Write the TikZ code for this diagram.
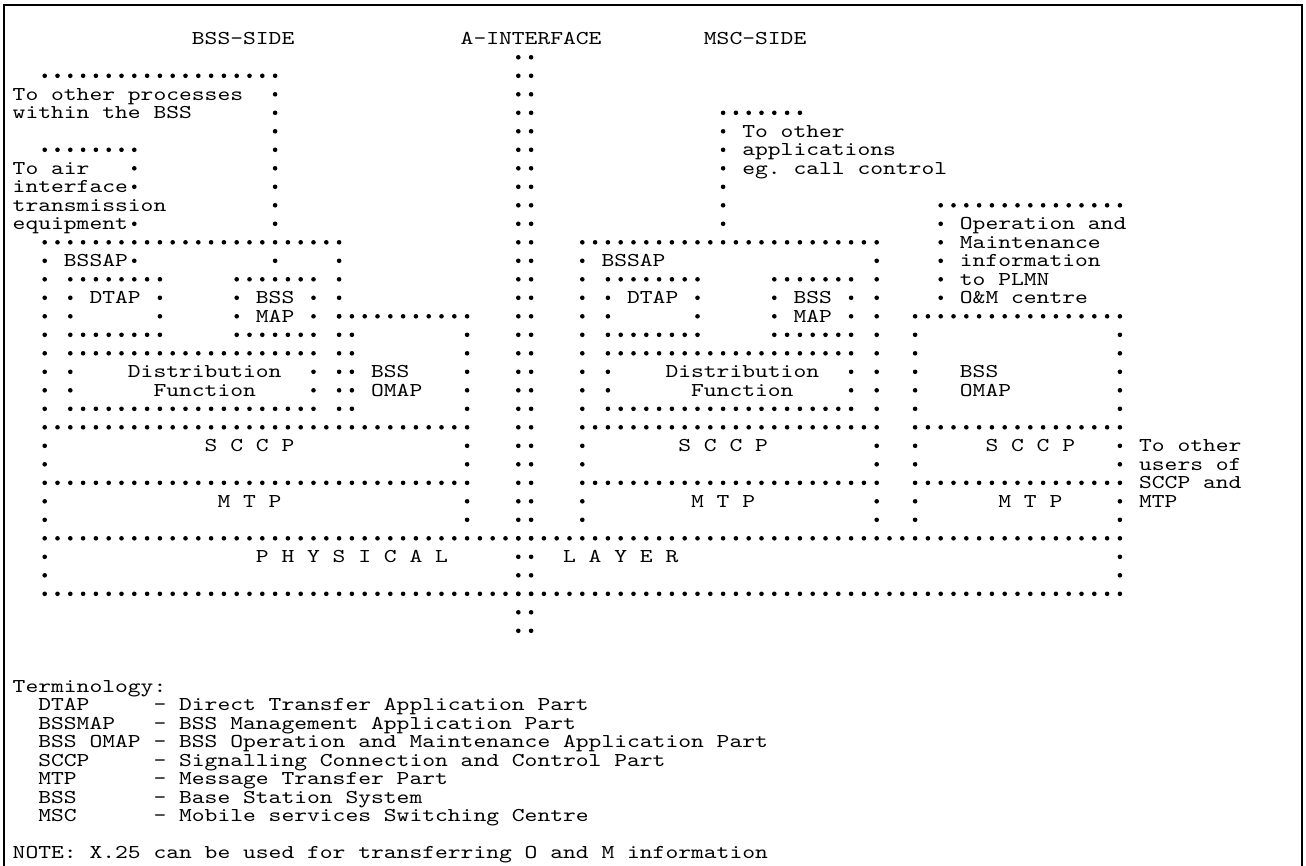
\documentclass[tikz,border=0pt]{standalone}
\usepackage{fontspec}
\usepackage{graphicx}
\tikzset{txt/.style={anchor=base west, inner sep=0pt, outer sep=0pt,
  font=\ttfamily\fontsize{9.8}{10}\selectfont\frenchspacing}}
\newcommand\bdot[2]{\fill ({19.1+12.8*(#2)},{38.8+18.5*(#1)}) circle[radius=1.15pt];}
\newcommand\brow[3]{\foreach \cc in {#2,...,#3}{\bdot{#1}{\cc}}}
\newcommand\bcol[3]{\foreach \rr in {#2,...,#3}{\bdot{\rr}{#1}}}
\newcommand\tx[4]{\node[txt] (#1) at ({12.7+12.8*(#3)},{44.7+18.5*(#2)}) {\scalebox{1.244}[1]{#4}};}
\begin{document}
\begin{tikzpicture}[x=0.5pt,y=-0.5pt]
\useasboundingbox (0,0) rectangle (1306,866);
\fill[white] (0,0) rectangle (1306,866);
% frame
\draw[line width=1.2pt] (4,870) -- (4,5) -- (1302,5) -- (1302,870);
% titles
\tx{tbss}{0}{14}{BSS-SIDE}
\tx{tai}{0}{35}{A-INTERFACE}
\tx{tmsc}{0}{54}{MSC-SIDE}
% A-interface
\bcol{39}{1}{32}
\bcol{40}{1}{32}
% ---------- BSS side ----------
\brow{2}{2}{20}
\bcol{20}{3}{10} \bdot{12}{20}
\tx{toproc}{3}{0}{To other processes}
\tx{within}{4}{0}{within the BSS}
\brow{6}{2}{9}
\bdot{7}{9} \bdot{8}{9} \bdot{10}{9} \bdot{12}{9}
\tx{toair}{7}{0}{To air}
\tx{interf}{8}{0}{interface}
\tx{transm}{9}{0}{transmission}
\tx{equip}{10}{0}{equipment}
% BSSAP box
\brow{11}{2}{25}
\bcol{2}{12}{20} \bcol{25}{12}{20}
\tx{bssapL}{12}{4}{BSSAP}
\brow{13}{4}{11} \brow{16}{4}{11} \bcol{4}{14}{15} \bcol{11}{14}{15}
\tx{dtapL}{14}{6}{DTAP}
\brow{13}{17}{23} \brow{16}{17}{23} \bcol{17}{14}{15} \bcol{23}{14}{15}
\tx{bssmapLa}{14}{19}{BSS}
\tx{bssmapLb}{15}{19}{MAP}
\brow{17}{4}{23} \brow{20}{4}{23} \bcol{4}{18}{19} \bcol{23}{18}{19}
\tx{distL}{18}{9}{Distribution}
\tx{funcL}{19}{11}{Function}
% BSS OMAP
\brow{15}{25}{35} \bcol{26}{16}{20} \bcol{35}{16}{20}
\tx{omapLa}{18}{28}{BSS}
\tx{omapLb}{19}{28}{OMAP}
% SCCP / MTP
\brow{21}{2}{35} \bcol{2}{22}{23} \bcol{35}{22}{23}
\tx{sccpL}{22}{15}{S C C P}
\brow{24}{2}{35} \bcol{2}{25}{26} \bcol{35}{25}{26}
\tx{mtpL}{25}{16}{M T P}
% physical layer
\brow{27}{2}{86} \bcol{2}{28}{29} \bcol{86}{28}{29} \brow{30}{2}{86}
\tx{phys}{28}{19}{P H Y S I C A L}
\tx{layer}{28}{43}{L A Y E R}
% ---------- MSC side ----------
\brow{4}{55}{61} \bcol{55}{5}{10}
\tx{toapp1}{5}{57}{To other}
\tx{toapp2}{6}{57}{applications}
\tx{toapp3}{7}{57}{eg. call control}
\brow{9}{72}{86} \bcol{72}{10}{14}
\tx{om1}{10}{74}{Operation and}
\tx{om2}{11}{74}{Maintenance}
\tx{om3}{12}{74}{information}
\tx{om4}{13}{74}{to PLMN}
\tx{om5}{14}{74}{O\&M centre}
% BSSAP box
\brow{11}{44}{67} \bcol{44}{12}{20} \bcol{67}{12}{20}
\tx{bssapR}{12}{46}{BSSAP}
\brow{13}{46}{53} \brow{16}{46}{53} \bcol{46}{14}{15} \bcol{53}{14}{15}
\tx{dtapR}{14}{48}{DTAP}
\brow{13}{59}{65} \brow{16}{59}{65} \bcol{59}{14}{15} \bcol{65}{14}{15}
\tx{bssmapRa}{14}{61}{BSS}
\tx{bssmapRb}{15}{61}{MAP}
\brow{17}{46}{65} \brow{20}{46}{65} \bcol{46}{18}{19} \bcol{65}{18}{19}
\tx{distR}{18}{51}{Distribution}
\tx{funcR}{19}{53}{Function}
% OMAP
\brow{15}{70}{86} \bcol{70}{16}{20} \bcol{86}{16}{20}
\tx{omapRa}{18}{74}{BSS}
\tx{omapRb}{19}{74}{OMAP}
% SCCP / MTP
\brow{21}{44}{67} \brow{21}{70}{86}
\bcol{44}{22}{23} \bcol{67}{22}{23} \bcol{70}{22}{23} \bcol{86}{22}{23}
\brow{24}{44}{67} \brow{24}{70}{86}
\bcol{44}{25}{26} \bcol{67}{25}{26} \bcol{70}{25}{26} \bcol{86}{25}{26}
\tx{sccpR}{22}{52}{S C C P}
\tx{mtpR}{25}{53}{M T P}
\tx{sccpO}{22}{76}{S C C P}
\tx{mtpO}{25}{77}{M T P}
\tx{users1}{22}{88}{To other}
\tx{users2}{23}{88}{users of}
\tx{users3}{24}{88}{SCCP and}
\tx{users4}{25}{88}{MTP}
% ---------- terminology ----------
\tx{term}{35}{0}{Terminology:}
\tx{t1}{36}{2}{DTAP}     \tx{d1}{36}{11}{- Direct Transfer Application Part}
\tx{t2}{37}{2}{BSSMAP}   \tx{d2}{37}{11}{- BSS Management Application Part}
\tx{t3}{38}{2}{BSS OMAP} \tx{d3}{38}{11}{- BSS Operation and Maintenance Application Part}
\tx{t4}{39}{2}{SCCP}     \tx{d4}{39}{11}{- Signalling Connection and Control Part}
\tx{t5}{40}{2}{MTP}      \tx{d5}{40}{11}{- Message Transfer Part}
\tx{t6}{41}{2}{BSS}      \tx{d6}{41}{11}{- Base Station System}
\tx{t7}{42}{2}{MSC}      \tx{d7}{42}{11}{- Mobile services Switching Centre}
\tx{note}{44}{0}{NOTE: X.25 can be used for transferring O and M information}
\end{tikzpicture}
\end{document}
